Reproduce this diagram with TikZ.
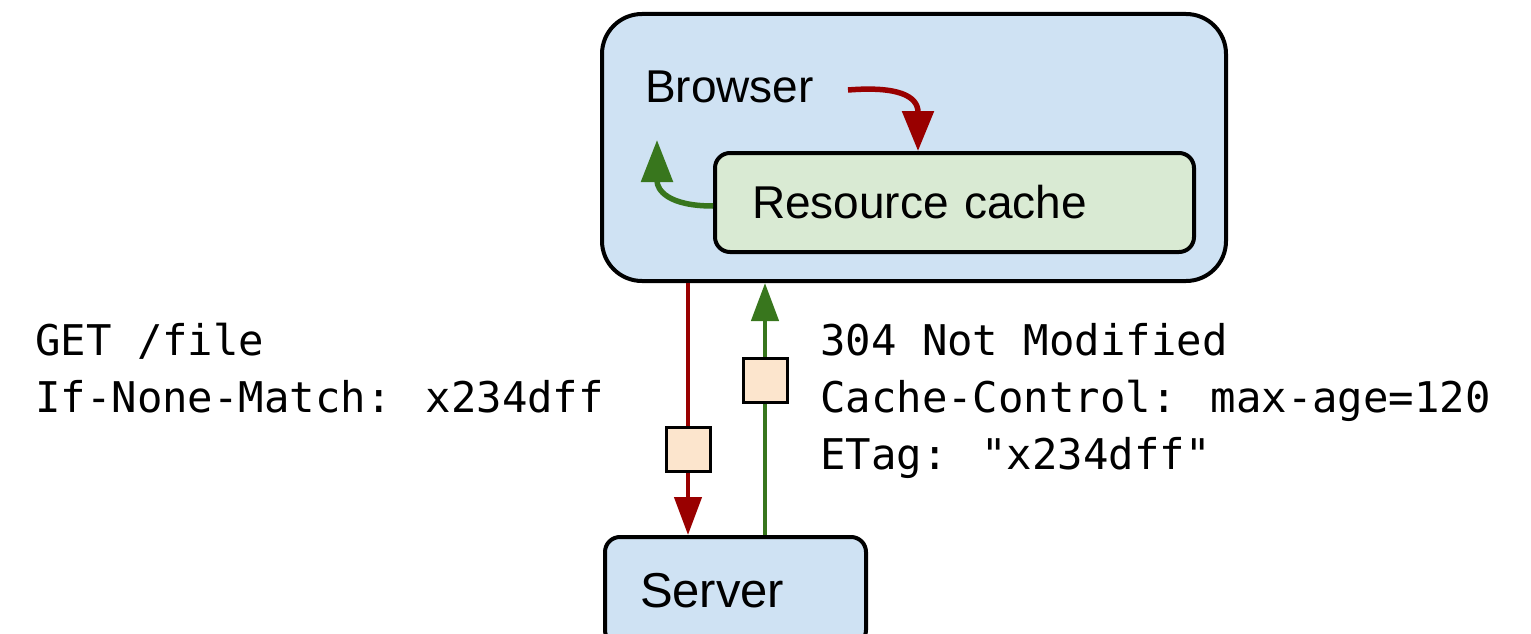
\documentclass[tikz,border=0pt]{standalone}
\usepackage{fontspec}
\setmainfont{Liberation Sans}
\newfontfamily\codefont{DejaVu Sans Mono}
\usetikzlibrary{arrows.meta,calc}
\definecolor{boxblue}{HTML}{CFE2F3}
\definecolor{cachegreen}{HTML}{D9EAD3}
\definecolor{peach}{HTML}{FCE5CD}
\definecolor{reqred}{HTML}{990000}
\definecolor{respgreen}{HTML}{38761D}
\begin{document}
\begin{tikzpicture}[x=1pt,y=-1pt,
  container/.style={draw=black, line width=4pt, fill=boxblue, rounded corners=40pt, inner sep=0pt},
  cachebox/.style={draw=black, line width=4pt, fill=cachegreen, rounded corners=15pt, inner sep=0pt},
  serverbox/.style={draw=black, line width=4pt, fill=boxblue, rounded corners=15pt, inner sep=0pt},
  packet/.style={draw=black, line width=3pt, fill=peach, minimum size=44pt, inner sep=0pt},
  sanslabel/.style={font=\fontsize{46}{55}\selectfont, inner sep=0pt},
  codetext/.style={font=\codefont\fontsize{42.3}{57}\selectfont, align=left, inner sep=0pt},
  reqarrow/.style={draw=reqred, line width=4.5pt, -{Triangle[length=38pt,width=27pt]}},
  resparrow/.style={draw=respgreen, line width=4.5pt, -{Triangle[length=38pt,width=27pt]}},
  bendred/.style={draw=reqred, line width=5.5pt, -{Triangle[length=40pt,width=31pt]}},
  bendgreen/.style={draw=respgreen, line width=5.5pt, -{Triangle[length=42pt,width=31pt]}}
]
\useasboundingbox (0,0) rectangle (1531,634);
\clip (0,0) rectangle (1531,634);

% containers
\node[container, minimum width=624pt, minimum height=267pt] (browser) at (914,147.5) {};
\node[sanslabel, anchor=base west] (browserlabel) at (645,102) {Browser};
\node[cachebox, minimum width=479pt, minimum height=99pt, text width=405pt, align=left, font=\fontsize{46}{55}\selectfont] (cache) at (954.5,202.5) {Resource cache};
\node[serverbox, minimum width=261pt, minimum height=108pt, text width=191pt, align=left, font=\fontsize{49}{58}\selectfont] (server) at (735.5,591) {Server};

% helper coordinates
\coordinate (reqx) at (688,0);
\coordinate (respx) at (765,0);
\coordinate (redtip) at (918,0);
\coordinate (greentip) at (657,140);
\coordinate (greenstart) at (0,206);
\coordinate (redstart) at (848,90);

% internal arrows
\draw[bendred] (redstart) .. controls +(50,-4) and +(0,-55) .. (cache.north -| redtip);
\draw[bendgreen] (cache.west |- greenstart) .. controls +(-45,0) and +(0,50) .. (greentip);

% request / response
\draw[reqarrow] (browser.south -| reqx) -- node[pos=0.659, packet] (reqpkt) {} (server.north -| reqx);
\draw[resparrow] (server.north -| respx) -- node[pos=0.615, packet] (resppkt) {} (browser.south -| respx);

% header texts (base anchor = baseline of last line)
\node[codetext, anchor=base west] (reqtext) at (35,412) {GET /file\\If-None-Match: x234dff};
\node[codetext, anchor=base west] (resptext) at (820,469) {304 Not Modified\\Cache-Control: max-age=120\\ETag: "x234dff"};
\end{tikzpicture}
\end{document}
